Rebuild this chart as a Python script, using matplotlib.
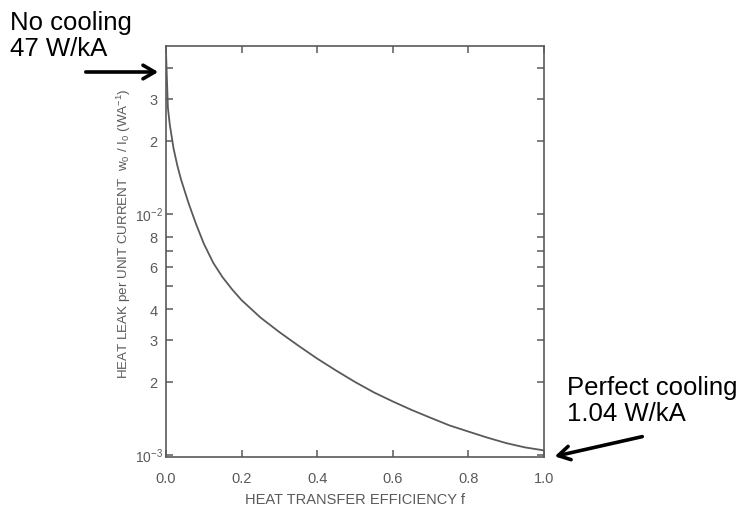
"""
Heat leak per unit current vs heat transfer efficiency (log y), with
"No cooling" / "Perfect cooling" call-outs.
"""

import matplotlib
matplotlib.use("Agg")
import matplotlib.pyplot as plt
import numpy as np

# curve
efficiency = [0.0, 0.005, 0.01, 0.02, 0.03, 0.04, 0.06, 0.08, 0.10, 0.125,
              0.15, 0.175, 0.20, 0.25, 0.30, 0.35, 0.40, 0.45, 0.50, 0.55,
              0.60, 0.65, 0.70, 0.75, 0.80, 0.85, 0.90, 0.95, 1.00]
heat_leak = [4.7e-2, 2.75e-2, 2.34e-2, 1.86e-2, 1.58e-2, 1.38e-2, 1.10e-2,
             9.0e-3, 7.5e-3, 6.24e-3, 5.43e-3, 4.84e-3, 4.37e-3, 3.70e-3,
             3.22e-3, 2.83e-3, 2.50e-3, 2.23e-3, 2.00e-3, 1.81e-3, 1.66e-3,
             1.53e-3, 1.42e-3, 1.32e-3, 1.245e-3, 1.175e-3, 1.115e-3,
             1.07e-3, 1.04e-3]

x_ticks = [0.0, 0.2, 0.4, 0.6, 0.8, 1.0]
x_tick_labels = ["0.0", "0.2", "0.4", "0.6", "0.8", "1.0"]
y_ticks = [1e-3, 2e-3, 3e-3, 4e-3, 5e-3, 6e-3, 7e-3, 8e-3,
           1e-2, 2e-2, 3e-2, 4e-2]
y_tick_labels = ["$10^{-3}$", "2", "3", "4", "", "6", "", "8",
                 "$10^{-2}$", "2", "3", ""]

INK = "#5a5a5a"

plt.rcParams["font.family"] = ["Liberation Sans", "DejaVu Sans"]
plt.rcParams["mathtext.fontset"] = "custom"
plt.rcParams["mathtext.rm"] = "Liberation Sans"
plt.rcParams["mathtext.it"] = "Liberation Sans"

fig = plt.figure(figsize=(7.42, 5.06), dpi=100)
ax = fig.add_axes([166 / 742, 1 - 458 / 506, 378 / 742, 411 / 506])

ax.plot(efficiency, heat_leak, color=INK, linewidth=1.3)

ax.set_yscale("log")
ax.set_xlim(0, 1)
ax.set_ylim(10 ** (-3 - 2.5 / 241), 10 ** (-3 + 408.5 / 241))

ax.xaxis.set_major_locator(matplotlib.ticker.FixedLocator(x_ticks))
ax.set_xticklabels(x_tick_labels)
ax.yaxis.set_major_locator(matplotlib.ticker.FixedLocator(y_ticks))
ax.yaxis.set_minor_locator(matplotlib.ticker.NullLocator())
ax.set_yticklabels(y_tick_labels)

ax.tick_params(axis="both", which="major", direction="in", length=5,
               width=1.1, color=INK, labelcolor=INK, labelsize=10.5,
               top=True, right=True)
ax.tick_params(axis="x", pad=10)
ax.tick_params(axis="y", pad=6)
for s in ax.spines.values():
    s.set_color(INK)
    s.set_linewidth(1.2)

# the 10^n labels sit a bit closer to the axis than the digits
for tick, lab in zip(ax.yaxis.get_major_ticks(), y_tick_labels):
    if lab.startswith("$10"):
        tick.label1.set_x(5 / 378)
        tick.label1.set_fontsize(10)

ax.set_xlabel("HEAT TRANSFER EFFICIENCY f", color=INK, fontsize=10.5,
              labelpad=5)
ax.set_ylabel(r"HEAT LEAK per UNIT CURRENT  w$_0$ / I$_0$ (WA$^{-1}$)",
              color=INK, fontsize=9.6)
ax.yaxis.set_label_coords(-0.086, 0.545)

# call-outs
fig.text(10 / 742, 1 - 36 / 506, "No cooling\n47 W/kA", fontsize=18.5,
         ha="left", va="center", linespacing=1.1, color="black")
fig.text(567 / 742, 1 - 401 / 506, "Perfect cooling\n1.04 W/kA",
         fontsize=18.5, ha="left", va="center", linespacing=1.1,
         color="black")

arrow = dict(arrowstyle="->,head_length=0.6,head_width=0.35",
             color="black", lw=2.6)
fig.add_artist(matplotlib.patches.FancyArrowPatch(
    (83 / 742, 1 - 73 / 506), (161 / 742, 1 - 73 / 506),
    transform=fig.transFigure, mutation_scale=14, **arrow))
fig.add_artist(matplotlib.patches.FancyArrowPatch(
    (645 / 742, 1 - 437 / 506), (552 / 742, 1 - 458 / 506),
    transform=fig.transFigure, mutation_scale=14, **arrow))

fig.savefig("out.png", dpi=100)
plt.close(fig)
